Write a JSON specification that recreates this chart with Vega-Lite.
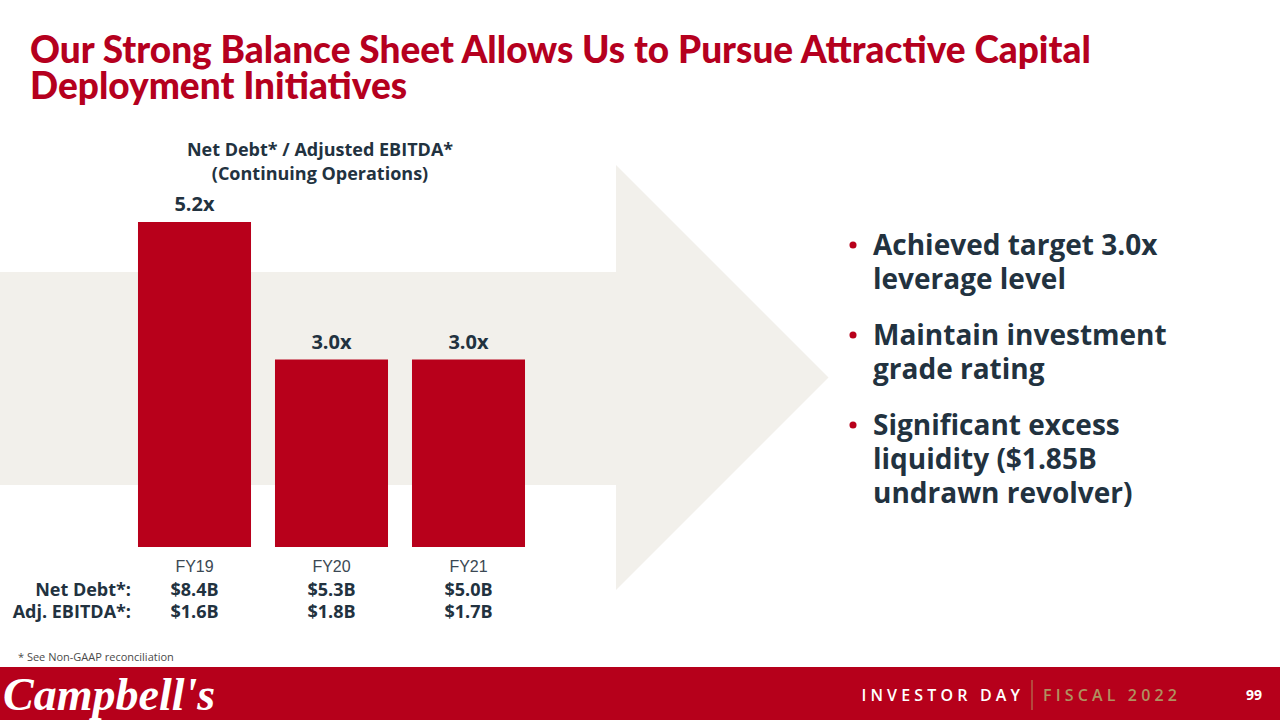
{
  "$schema": "https://vega.github.io/schema/vega-lite/v6.json",
  "width": 1280,
  "height": 720,
  "autosize": {"type": "fit", "contains": "padding"},
  "padding": 0,
  "background": "#FFFFFF",
  "config": {"view": {"stroke": null}},
  "resolve": {"scale": {"x": "independent", "y": "independent"}},
  "layer": [
    {
      "data": {"values": [{}]},
      "mark": {"type": "rect", "x": 0, "x2": 617, "y": 272, "y2": 485, "color": "#F2F0EB"},
      "encoding": {}
    },
    {
      "data": {"values": [{}]},
      "mark": {"type": "point", "shape": "M0,-1L1,0L0,1Z", "size": 180625, "x": 616, "y": 377.5, "filled": true, "color": "#F2F0EB", "opacity": 1, "strokeWidth": 0},
      "encoding": {}
    },
    {
      "data": {"values": [{}]},
      "mark": {"type": "text", "x": 30, "y": 63, "align": "left", "baseline": "alphabetic", "font": "Lato", "fontWeight": 900, "fontSize": 37, "lineHeight": 36, "color": "#B5001E",
        "text": ["Our Strong Balance Sheet Allows Us to Pursue Attractive Capital", "Deployment Initiatives"]},
      "encoding": {}
    },
    {
      "data": {"values": [{}]},
      "mark": {"type": "text", "x": 320, "y": 156, "align": "center", "baseline": "alphabetic", "font": "Open Sans", "fontWeight": "bold", "fontSize": 18, "lineHeight": 24, "color": "#22323F",
        "text": ["Net Debt* / Adjusted EBITDA*", "(Continuing Operations)"]},
      "encoding": {}
    },
    {
      "data": {"values": [
        {"year": "FY19", "ratio": 5.2, "label": "5.2x", "netDebt": "$8.4B", "ebitda": "$1.6B"},
        {"year": "FY20", "ratio": 3.0, "label": "3.0x", "netDebt": "$5.3B", "ebitda": "$1.8B"},
        {"year": "FY21", "ratio": 3.0, "label": "3.0x", "netDebt": "$5.0B", "ebitda": "$1.7B"}
      ]},
      "encoding": {
        "x": {"field": "year", "type": "nominal", "sort": null, "axis": null,
          "scale": {"type": "band", "range": [126, 537], "paddingInner": 0.175, "paddingOuter": 0.0875}}
      },
      "layer": [
        {
          "mark": {"type": "bar", "color": "#B8001B"},
          "encoding": {
            "y": {"field": "ratio", "type": "quantitative", "axis": null,
              "scale": {"domain": [0, 5.2], "range": [547, 222], "nice": false, "zero": true}}
          }
        },
        {
          "mark": {"type": "text", "font": "Open Sans", "fontWeight": "bold", "fontSize": 20, "color": "#22323F", "dy": -11, "baseline": "alphabetic", "align": "center"},
          "encoding": {
            "y": {"field": "ratio", "type": "quantitative"},
            "text": {"field": "label"}
          }
        },
        {
          "mark": {"type": "text", "y": 572, "font": "Liberation Sans", "fontSize": 16, "color": "#3B4853", "baseline": "alphabetic", "align": "center"},
          "encoding": {"text": {"field": "year"}}
        },
        {
          "mark": {"type": "text", "y": 596, "font": "Open Sans", "fontWeight": "bold", "fontSize": 18, "color": "#22323F", "baseline": "alphabetic", "align": "center"},
          "encoding": {"text": {"field": "netDebt"}}
        },
        {
          "mark": {"type": "text", "y": 618, "font": "Open Sans", "fontWeight": "bold", "fontSize": 18, "color": "#22323F", "baseline": "alphabetic", "align": "center"},
          "encoding": {"text": {"field": "ebitda"}}
        }
      ]
    },
    {
      "data": {"values": [{}]},
      "mark": {"type": "text", "x": 131, "y": 596, "align": "right", "baseline": "alphabetic", "font": "Open Sans", "fontWeight": "bold", "fontSize": 18, "lineHeight": 22, "color": "#22323F",
        "text": ["Net Debt*:", "Adj. EBITDA*:"]},
      "encoding": {}
    },
    {
      "data": {"values": [{}]},
      "mark": {"type": "text", "x": 18, "y": 661, "align": "left", "baseline": "alphabetic", "font": "Open Sans", "fontSize": 11, "color": "#4A4A4A",
        "text": "* See Non-GAAP reconciliation"},
      "encoding": {}
    },
    {
      "data": {"values": [
        {"item": 1, "lines": ["Achieved target 3.0x", "leverage level"]},
        {"item": 2, "lines": ["Maintain investment", "grade rating"]},
        {"item": 3, "lines": ["Significant excess", "liquidity ($1.85B", "undrawn revolver)"]}
      ]},
      "encoding": {
        "y": {"field": "item", "type": "quantitative", "axis": null,
          "scale": {"domain": [1, 3], "range": [255, 435], "nice": false, "zero": false}}
      },
      "layer": [
        {
          "mark": {"type": "text", "x": 873, "align": "left", "baseline": "alphabetic", "font": "Open Sans", "fontWeight": "bold", "fontSize": 28, "lineHeight": 34, "color": "#22323F"},
          "encoding": {"text": {"field": "lines"}}
        },
        {
          "mark": {"type": "point", "x": 853, "shape": "circle", "size": 50, "filled": true, "opacity": 1, "color": "#B8001B", "yOffset": -10},
          "encoding": {}
        }
      ]
    },
    {
      "data": {"values": [{}]},
      "mark": {"type": "rect", "x": 0, "x2": 1280, "y": 667, "y2": 720, "color": "#B6001B"},
      "encoding": {}
    },
    {
      "data": {"values": [{}]},
      "mark": {"type": "text", "x": 3, "y": 710, "align": "left", "baseline": "alphabetic", "font": "Liberation Serif", "fontStyle": "italic", "fontWeight": "bold", "fontSize": 46, "color": "#FFFFFF", "text": "Campbell's"},
      "encoding": {}
    },
    {
      "data": {"values": [{}]},
      "mark": {"type": "text", "x": 1020, "y": 701, "align": "right", "baseline": "alphabetic", "font": "Open Sans", "fontWeight": 600, "fontSize": 16, "color": "#FFFFFF", "text": "I N V E S T O R\u00a0\u00a0\u00a0D A Y"},
      "encoding": {}
    },
    {
      "data": {"values": [{}]},
      "mark": {"type": "rect", "x": 1031.5, "x2": 1032.5, "y": 680, "y2": 710, "color": "#B0915F"},
      "encoding": {}
    },
    {
      "data": {"values": [{}]},
      "mark": {"type": "text", "x": 1043, "y": 701, "align": "left", "baseline": "alphabetic", "font": "Open Sans", "fontWeight": 600, "fontSize": 16, "color": "#B0915F", "text": "F I S C A L\u00a0\u00a0\u00a02 0 2 2"},
      "encoding": {}
    },
    {
      "data": {"values": [{}]},
      "mark": {"type": "text", "x": 1262, "y": 700, "align": "right", "baseline": "alphabetic", "font": "Open Sans", "fontWeight": "bold", "fontSize": 14, "color": "#FFFFFF", "text": "99"},
      "encoding": {}
    }
  ]
}
